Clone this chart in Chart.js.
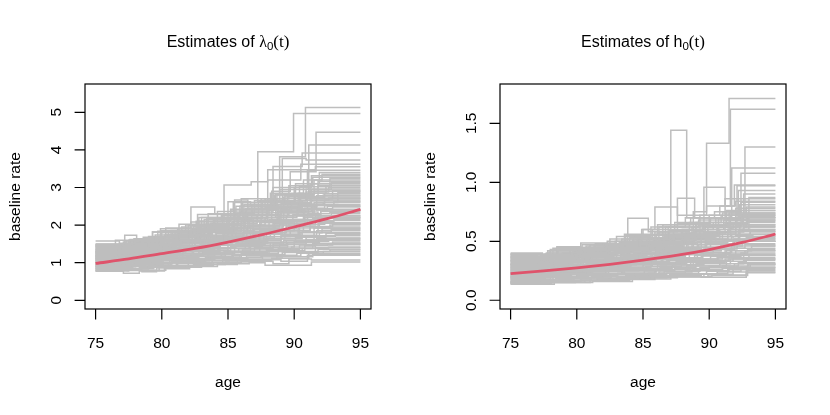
<!DOCTYPE html>
<html>
<head>
<meta charset="utf-8">
<script src="https://cdn.jsdelivr.net/npm/chart.js@4.4.1/dist/chart.umd.min.js"></script>
<style>
  html, body { margin: 0; padding: 0; background: #fff; }
  #wrap { display: flex; width: 830px; height: 415px; }
  .panel { width: 415px; height: 415px; }
</style>
</head>
<body>
<div id="wrap">
  <div class="panel"><canvas id="lambdaChart" width="415" height="415"></canvas></div>
  <div class="panel"><canvas id="hChart" width="415" height="415"></canvas></div>
</div>
<script>
// ---- data ----
const ageTicks = [75, 80, 85, 90, 95];
const ageEnd = 95;

const lambdaTicks = [0, 1, 2, 3, 4, 5];
const lambdaTickLabels = ['0', '1', '2', '3', '4', '5'];
const hTicks = [0, 0.5, 1, 1.5];
const hTickLabels = ['0.0', '0.5', '1.0', '1.5'];

// fitted (red) curves
const fitAges = [75, 77.5, 80, 82.5, 85, 87.5, 90, 92.5, 95];
const lambdaFit = [0.98, 1.10, 1.24, 1.38, 1.55, 1.74, 1.95, 2.17, 2.42];
const hFit = [0.225, 0.25, 0.275, 0.305, 0.34, 0.38, 0.43, 0.49, 0.56];

// step estimates: [age where the step starts, value]
const lambdaLow = [
  [[75,0.77],[77.1,0.72],[78.3,0.78],[80.2,0.84],[82.1,0.9],[84.2,0.97],[86.6,1.0],[87.8,0.93],[91.3,1.02]],
  [[75,0.79],[76.6,0.8],[78.5,0.76],[79.6,0.86],[81.7,0.92],[83.9,1.0],[86.0,1.04],[88.4,0.97],[89.6,1.1],[91.3,1.07]],
  [[75,0.82],[77.4,0.79],[79.8,0.9],[82.4,0.95],[84.8,1.02],[87.2,1.08],[89.0,1.04],[91.0,1.2]],
  [[75,0.85],[76.8,0.83],[79.0,0.93],[81.2,0.98],[83.3,1.05],[85.6,1.1],[88.7,1.16],[91.4,1.22]],
  [[75,0.88],[77.8,0.9],[80.5,0.99],[82.9,1.05],[85.1,1.14],[87.5,1.2],[90.2,1.25],[92.2,1.3]],
  [[75,0.9],[77.3,0.94],[79.5,1.0],[81.9,1.08],[84.0,1.12],[86.4,1.22],[89.3,1.28],[91.8,1.36]],
  [[75,0.93],[78.0,0.97],[80.8,1.05],[83.6,1.15],[85.9,1.2],[88.1,1.3],[90.6,1.38],[92.6,1.42]],
  [[75,0.95],[76.4,0.99],[79.2,1.06],[81.4,1.12],[84.5,1.22],[86.9,1.3],[89.8,1.42],[91.6,1.5]],
  [[75,0.97],[77.6,1.02],[80.0,1.1],[82.7,1.17],[85.4,1.27],[87.9,1.36],[90.4,1.47],[92.9,1.55]],
  [[75,1.0],[76.9,1.04],[79.9,1.13],[82.2,1.22],[84.7,1.3],[87.0,1.4],[89.5,1.53],[91.9,1.6]],
  [[75,1.02],[78.2,1.08],[80.4,1.18],[83.1,1.27],[85.8,1.37],[88.4,1.5],[90.9,1.62],[93.2,1.66]],
  [[75,1.04],[77.0,1.1],[79.7,1.2],[81.6,1.3],[84.2,1.38],[86.6,1.5],[89.2,1.6],[91.5,1.72]],
  [[75,1.06],[77.7,1.12],[80.3,1.24],[82.8,1.33],[85.2,1.44],[87.6,1.55],[90.1,1.68],[92.4,1.78]],
  [[75,1.08],[76.5,1.14],[79.1,1.26],[81.8,1.35],[84.0,1.47],[86.8,1.6],[89.0,1.73],[91.7,1.85]],
  [[75,1.1],[78.4,1.18],[80.9,1.3],[83.4,1.4],[85.6,1.52],[88.0,1.65],[90.5,1.8],[92.1,1.9]],
  [[75,1.12],[77.2,1.2],[79.4,1.33],[82.0,1.44],[84.4,1.56],[87.3,1.7],[89.7,1.86],[91.2,1.95]],
  [[75,1.14],[77.9,1.22],[80.6,1.36],[83.0,1.48],[85.3,1.6],[87.7,1.76],[90.3,1.92],[92.7,2.0]],
  [[75,1.16],[76.7,1.25],[79.6,1.38],[82.5,1.52],[84.9,1.64],[87.1,1.8],[89.4,1.96],[91.9,2.06]]
];
const lambdaMid = [
  [[75,1.18],[78.1,1.28],[80.7,1.42],[83.2,1.55],[85.7,1.7],[88.2,1.86],[90.7,2.02],[92.3,2.12]],
  [[75,1.2],[77.5,1.3],[80.1,1.45],[82.3,1.58],[84.6,1.74],[86.9,1.9],[89.1,2.08],[91.4,2.18]],
  [[75,1.22],[76.9,1.33],[79.3,1.48],[81.5,1.62],[84.1,1.78],[86.5,1.95],[88.9,2.12],[91.0,2.25]],
  [[75,1.24],[78.3,1.36],[81.0,1.52],[83.7,1.68],[86.2,1.84],[88.6,2.0],[90.8,2.2],[92.8,2.3]],
  [[75,1.26],[77.4,1.38],[79.9,1.55],[82.6,1.72],[85.0,1.9],[87.4,2.06],[89.9,2.28],[92.0,2.36]],
  [[75,1.28],[76.6,1.4],[79.0,1.58],[81.3,1.76],[83.8,1.94],[86.3,2.12],[88.8,2.32],[91.1,2.42]],
  [[75,1.3],[77.8,1.44],[80.2,1.62],[82.9,1.8],[85.5,2.0],[87.8,2.2],[90.2,2.4],[92.5,2.5]],
  [[75,1.32],[77.0,1.46],[79.8,1.66],[82.1,1.85],[84.8,2.05],[87.2,2.26],[89.6,2.45],[91.6,2.55]],
  [[75,1.34],[78.0,1.5],[80.5,1.7],[83.5,1.9],[86.0,2.12],[88.3,2.33],[90.6,2.52],[93.0,2.62]],
  [[75,1.36],[76.8,1.52],[79.5,1.74],[82.4,1.96],[85.1,2.18],[87.6,2.4],[89.8,2.6],[91.3,2.7]],
  [[75,1.38],[77.6,1.55],[80.8,1.8],[83.3,2.02],[85.8,2.26],[88.1,2.5],[90.4,2.7],[92.2,2.8]],
  [[75,1.4],[77.3,1.58],[79.7,1.84],[82.2,2.08],[84.5,2.3],[86.8,2.55],[89.3,2.78],[91.5,2.9]],
  [[75,1.42],[78.2,1.62],[81.2,1.9],[83.9,2.15],[86.4,2.4],[88.7,2.65],[90.9,2.88],[92.6,3.0]],
  [[75,1.44],[76.5,1.6],[79.3,1.82],[81.8,2.0],[84.2,2.36],[85.5,2.67],[86.5,2.45],[88.5,2.8],[91.2,3.1]],
  [[75,1.46],[77.9,1.64],[80.3,1.92],[82.2,2.48],[84.0,2.3],[86.1,2.6],[88.9,2.95],[91.8,3.16]],
  [[75,1.48],[77.1,1.5],[79.3,1.82],[80.5,1.6],[82.8,2.1],[85.2,2.4],[87.5,2.7],[89.6,3.05],[91.4,3.27]],
  [[75,1.49],[77.2,1.73],[78.1,1.55],[80.9,1.75],[83.0,2.2],[85.9,2.5],[88.2,2.85],[90.7,3.2],[92.1,3.35]],
  [[75,1.58],[76.8,1.45],[79.0,1.7],[81.3,2.02],[84.0,2.0],[86.2,2.55],[88.4,3.0],[91.0,3.46]]
];
const lambdaHigh = [
  [[75,1.45],[78.6,1.68],[81.5,1.95],[84.7,3.07],[86.75,3.15],[88.0,3.47],[91.6,3.55]],
  [[75,1.35],[77.5,1.6],[80.0,1.85],[82.8,2.2],[85.4,2.6],[87.25,3.95],[89.95,4.97]],
  [[75,1.3],[78.0,1.5],[81.0,1.8],[83.5,2.3],[86.0,2.7],[88.9,3.82],[90.85,5.13]],
  [[75,1.25],[77.2,1.48],[80.4,1.75],[83.2,2.15],[85.6,2.5],[88.3,2.9],[89.7,3.42],[91.65,4.47]],
  [[75,1.2],[78.4,1.45],[81.0,1.7],[83.7,2.05],[86.3,2.45],[88.7,2.8],[91.1,4.13]],
  [[75,1.15],[77.8,1.4],[80.6,1.68],[83.0,2.0],[85.5,2.35],[88.4,3.56],[90.6,3.92]],
  [[75,1.1],[77.0,1.35],[79.9,1.6],[82.6,1.95],[85.0,2.3],[87.0,2.65],[89.1,3.77],[90.9,3.73]],
  [[75,1.05],[78.0,1.3],[80.9,1.55],[83.5,1.9],[86.5,2.35],[88.0,3.2],[90.5,3.62]],
  [[75,1.0],[77.4,1.25],[80.0,1.5],[82.0,1.82],[84.9,2.2],[87.6,2.6],[90.0,3.0],[91.3,3.31]],
  [[75,0.95],[76.9,1.2],[79.6,1.45],[82.5,1.7],[85.3,2.1],[88.8,2.55],[90.3,2.85],[92.4,3.04]],
  [[75,0.9],[78.1,1.15],[81.1,1.4],[83.8,1.65],[86.7,2.0],[89.0,2.4],[91.0,2.7],[92.9,2.93]],
  [[75,0.85],[77.7,1.05],[80.5,1.3],[84.3,1.6],[87.0,1.9],[89.4,2.25],[91.5,2.6],[93.3,2.86]],
  [[75,0.8],[77.0,0.95],[80.1,1.2],[83.1,1.5],[86.1,1.8],[88.5,2.1],[90.8,2.45],[92.3,2.67]],
  [[75,1.5],[77.6,1.62],[79.9,1.9],[82.7,2.28],[85.0,2.62],[86.7,2.5],[89.2,2.75],[91.9,2.75]],
  [[75,1.12],[78.7,1.3],[81.4,1.55],[84.1,1.85],[86.9,2.2],[89.5,2.55],[91.7,2.4]],
  [[75,1.0],[77.9,1.15],[80.7,1.38],[83.6,1.62],[86.4,1.95],[89.2,2.35],[91.8,2.2]],
  [[75,0.92],[78.8,1.1],[81.6,1.3],[84.4,1.55],[87.4,1.85],[90.0,2.15],[92.5,2.05]],
  [[75,1.18],[77.1,1.35],[80.2,1.58],[82.9,1.88],[85.7,2.2],[88.6,2.5],[91.3,2.95],[92.8,3.14]],
  [[75,1.28],[76.4,1.42],[79.2,1.68],[82.0,1.98],[84.6,2.25],[87.3,2.62],[90.1,3.1],[91.9,3.4]]
];
const lambdaDense = [
  [[75,0.78],[77.5,0.8],[80.3,0.88],[83.0,0.95],[85.7,1.05],[88.3,1.12],[91.1,1.25]],
  [[75,0.81],[76.9,0.84],[79.4,0.92],[82.0,1.0],[84.6,1.08],[87.6,1.18],[90.5,1.3],[92.7,1.34]],
  [[75,0.84],[78.3,0.88],[81.1,0.97],[83.8,1.06],[86.5,1.15],[89.1,1.27],[91.6,1.4]],
  [[75,0.86],[77.1,0.9],[79.9,1.0],[82.6,1.1],[85.3,1.2],[88.0,1.32],[90.8,1.45],[92.5,1.48]],
  [[75,0.89],[78.0,0.94],[80.7,1.04],[83.3,1.14],[86.0,1.25],[88.8,1.38],[91.4,1.52]],
  [[75,0.91],[76.6,0.95],[79.1,1.06],[81.9,1.17],[84.8,1.29],[87.4,1.42],[90.0,1.57],[92.6,1.62]],
  [[75,0.94],[77.9,1.0],[80.6,1.1],[83.5,1.22],[86.1,1.34],[88.9,1.48],[91.7,1.65]],
  [[75,0.96],[77.3,1.01],[80.0,1.13],[82.8,1.25],[85.5,1.39],[88.2,1.54],[90.9,1.7],[93.1,1.75]],
  [[75,0.99],[78.5,1.06],[81.3,1.18],[84.0,1.31],[86.7,1.45],[89.4,1.6],[91.9,1.8]],
  [[75,1.01],[76.8,1.05],[79.6,1.19],[82.3,1.33],[85.0,1.48],[87.8,1.64],[90.6,1.82],[92.8,1.88]],
  [[75,1.03],[78.1,1.1],[80.9,1.23],[83.7,1.38],[86.3,1.53],[89.0,1.7],[91.5,1.92]],
  [[75,1.05],[77.0,1.1],[79.8,1.25],[82.4,1.4],[85.2,1.57],[87.9,1.76],[90.4,1.96],[92.9,2.02]],
  [[75,1.07],[78.4,1.15],[81.2,1.3],[83.9,1.46],[86.6,1.63],[89.3,1.82],[91.8,2.05]],
  [[75,1.09],[77.6,1.16],[80.4,1.31],[83.1,1.48],[85.8,1.66],[88.5,1.86],[91.2,2.1],[93.0,2.14]],
  [[75,1.11],[76.7,1.17],[79.3,1.32],[82.1,1.5],[84.9,1.7],[87.7,1.9],[90.2,2.14],[92.4,2.2]],
  [[75,1.13],[78.2,1.23],[81.0,1.4],[83.6,1.58],[86.4,1.78],[89.1,2.0],[91.6,2.24]],
  [[75,1.15],[77.3,1.23],[80.1,1.4],[82.9,1.6],[85.6,1.82],[88.4,2.05],[91.0,2.3],[92.7,2.34]],
  [[75,1.17],[78.6,1.28],[81.4,1.46],[84.2,1.66],[86.9,1.88],[89.6,2.12],[92.0,2.4]],
  [[75,1.19],[77.0,1.27],[79.7,1.45],[82.5,1.66],[85.3,1.9],[88.1,2.15],[90.7,2.44],[92.9,2.48]],
  [[75,1.21],[78.0,1.32],[80.8,1.52],[83.4,1.74],[86.2,1.98],[88.9,2.24],[91.4,2.52]],
  [[75,1.23],[76.5,1.3],[79.2,1.5],[82.0,1.72],[84.7,1.98],[87.5,2.26],[90.3,2.56],[92.2,2.6]],
  [[75,1.25],[77.8,1.37],[80.5,1.58],[83.2,1.82],[86.0,2.08],[88.7,2.36],[91.3,2.64]],
  [[75,1.27],[77.2,1.37],[80.0,1.58],[82.7,1.84],[85.4,2.1],[88.0,2.4],[90.6,2.66],[92.6,2.72]],
  [[75,1.29],[78.3,1.43],[81.1,1.66],[83.8,1.92],[86.6,2.2],[89.2,2.5],[91.7,2.78]],
  [[75,1.31],[76.9,1.4],[79.6,1.62],[82.3,1.88],[85.1,2.16],[87.9,2.46],[90.5,2.74],[92.3,2.84]],
  [[75,1.33],[78.1,1.47],[80.9,1.72],[83.6,1.98],[86.3,2.28],[89.0,2.58],[91.2,2.9]],
  [[75,1.37],[77.5,1.5],[80.2,1.74],[82.9,2.02],[85.7,2.32],[88.3,2.64],[90.9,2.96]],
  [[75,1.41],[78.5,1.58],[81.3,1.84],[84.0,2.14],[86.8,2.44],[89.5,2.76],[91.8,3.06]],
  [[75,1.43],[77.1,1.55],[79.9,1.8],[82.6,2.1],[85.2,2.42],[87.8,2.7],[90.4,3.02],[92.7,3.24]],
  [[75,1.47],[78.0,1.6],[80.7,1.86],[83.4,2.18],[86.1,2.5],[88.6,2.82],[91.5,3.2]]
];

const hLow = [
  [[75,0.135],[78.3,0.155],[80.6,0.165],[83.2,0.175],[85.9,0.19],[87.6,0.21],[89.4,0.195],[92.8,0.234]],
  [[75,0.14],[77.6,0.15],[79.9,0.17],[82.4,0.18],[84.8,0.2],[87.0,0.2],[89.9,0.215],[92.8,0.25]],
  [[75,0.15],[78.0,0.16],[80.3,0.18],[83.0,0.19],[85.5,0.21],[88.0,0.22],[90.6,0.24],[92.9,0.27]],
  [[75,0.16],[77.2,0.17],[79.6,0.19],[82.0,0.2],[84.4,0.22],[86.8,0.23],[89.2,0.25],[91.5,0.28]],
  [[75,0.17],[78.6,0.18],[81.1,0.2],[83.7,0.21],[86.2,0.24],[88.7,0.26],[91.0,0.27],[93.1,0.3]],
  [[75,0.18],[77.5,0.19],[80.0,0.21],[82.6,0.22],[85.1,0.25],[87.4,0.27],[90.0,0.29],[92.2,0.32]],
  [[75,0.19],[78.2,0.2],[80.8,0.22],[83.4,0.24],[86.0,0.26],[88.3,0.29],[90.8,0.31],[92.6,0.34]],
  [[75,0.2],[76.9,0.21],[79.5,0.23],[82.2,0.25],[84.7,0.27],[87.2,0.3],[89.6,0.33],[91.8,0.36]],
  [[75,0.21],[78.4,0.22],[81.0,0.24],[83.6,0.26],[86.3,0.29],[88.6,0.32],[91.2,0.35],[93.0,0.38]],
  [[75,0.22],[77.3,0.23],[79.8,0.25],[82.5,0.27],[85.0,0.3],[87.5,0.33],[90.1,0.37],[92.4,0.4]],
  [[75,0.23],[78.1,0.24],[80.5,0.26],[83.1,0.29],[85.7,0.32],[88.1,0.35],[90.7,0.39],[92.7,0.42]],
  [[75,0.24],[77.0,0.25],[79.4,0.27],[81.9,0.3],[84.5,0.33],[87.0,0.36],[89.5,0.4],[91.6,0.44]],
  [[75,0.25],[78.5,0.26],[81.2,0.29],[83.8,0.31],[86.4,0.35],[88.9,0.38],[91.3,0.42],[93.2,0.46]],
  [[75,0.26],[77.4,0.27],[80.1,0.3],[82.7,0.33],[85.2,0.36],[87.8,0.4],[90.3,0.44],[92.1,0.48]],
  [[75,0.27],[78.0,0.28],[80.7,0.31],[83.3,0.34],[85.9,0.38],[88.2,0.42],[90.9,0.46],[92.5,0.5]],
  [[75,0.28],[76.8,0.29],[79.3,0.32],[82.1,0.35],[84.6,0.39],[87.1,0.43],[89.7,0.48],[91.9,0.52]],
  [[75,0.29],[78.3,0.3],[81.0,0.33],[83.5,0.37],[86.1,0.41],[88.5,0.45],[91.1,0.5],[92.9,0.54]]
];
const hMid = [
  [[75,0.3],[77.1,0.31],[79.7,0.34],[82.3,0.38],[84.9,0.42],[87.3,0.47],[89.8,0.52],[91.7,0.56]],
  [[75,0.31],[78.4,0.32],[80.9,0.35],[83.5,0.39],[86.0,0.44],[88.4,0.49],[90.5,0.54],[92.3,0.58]],
  [[75,0.32],[77.6,0.33],[80.2,0.37],[82.8,0.41],[85.4,0.46],[87.9,0.51],[90.2,0.56],[91.4,0.6]],
  [[75,0.33],[77.9,0.34],[80.4,0.38],[83.0,0.42],[85.6,0.47],[88.0,0.53],[90.4,0.58],[92.6,0.62]],
  [[75,0.34],[77.2,0.35],[79.9,0.39],[82.4,0.43],[84.8,0.49],[87.4,0.55],[89.9,0.6],[91.8,0.64]],
  [[75,0.35],[78.1,0.36],[80.8,0.4],[83.3,0.45],[85.8,0.5],[88.2,0.57],[90.6,0.62],[92.2,0.66]],
  [[75,0.36],[77.4,0.37],[79.8,0.41],[82.2,0.46],[84.6,0.52],[87.0,0.59],[89.5,0.64],[91.3,0.68]],
  [[75,0.37],[78.3,0.38],[80.6,0.42],[83.2,0.47],[85.5,0.53],[87.9,0.6],[90.3,0.66],[92.5,0.7]],
  [[75,0.38],[77.0,0.39],[79.5,0.43],[82.0,0.48],[84.3,0.55],[86.7,0.62],[89.2,0.68],[91.6,0.72]],
  [[75,0.39],[77.3,0.38],[78.5,0.45],[81.0,0.47],[83.7,0.55],[86.1,0.64],[88.6,0.7],[91.0,0.74]],
  [[75,0.4],[77.4,0.384],[78.5,0.454],[80.3,0.485],[82.9,0.5],[84.9,0.6],[87.4,0.66],[90.0,0.72],[92.0,0.78]],
  [[75,0.36],[77.7,0.4],[80.0,0.44],[82.3,0.5],[83.85,0.695],[85.4,0.58],[87.6,0.65],[90.1,0.7],[92.3,0.81]],
  [[75,0.33],[77.8,0.42],[80.4,0.47],[82.5,0.52],[85.0,0.6],[85.9,0.79],[87.6,0.72],[89.8,0.8],[92.0,0.84]],
  [[75,0.3],[78.0,0.43],[80.7,0.46],[83.0,0.54],[85.6,0.62],[87.6,0.864],[88.9,0.7],[91.2,0.86]],
  [[75,0.28],[78.2,0.44],[81.4,0.48],[83.6,0.56],[86.2,0.62],[88.2,0.7],[89.6,0.957],[91.2,0.8],[91.9,0.977]],
  [[75,0.26],[77.9,0.41],[80.9,0.45],[83.4,0.52],[85.7,0.6],[87.1,1.44],[88.3,0.7],[90.4,0.75],[92.4,1.076]],
  [[75,0.24],[78.6,0.42],[81.3,0.46],[84.0,0.53],[86.5,0.64],[88.8,0.75],[89.8,1.33],[91.5,1.71]]
];
const hHigh = [
  [[75,0.22],[78.9,0.4],[81.6,0.44],[84.2,0.51],[86.9,0.62],[89.3,0.72],[90.8,0.8],[91.6,1.62]],
  [[75,0.2],[78.7,0.39],[81.8,0.43],[84.5,0.5],[87.3,0.6],[89.6,0.7],[91.7,1.12]],
  [[75,0.18],[77.5,0.36],[80.2,0.42],[83.3,0.48],[85.9,0.58],[88.5,0.66],[90.9,0.72],[92.7,1.3]],
  [[75,0.16],[78.0,0.33],[81.0,0.4],[83.9,0.46],[86.6,0.55],[89.0,0.64],[91.3,0.72],[92.1,0.97]],
  [[75,0.15],[77.6,0.3],[80.5,0.38],[83.1,0.44],[85.8,0.52],[88.7,0.62],[90.5,0.7],[92.2,0.93]],
  [[75,0.16],[78.2,0.2],[80.9,0.26],[83.8,0.32],[86.4,0.4],[89.1,0.5],[91.0,0.58],[92.6,0.9]],
  [[75,0.19],[77.9,0.22],[80.6,0.27],[83.5,0.34],[86.0,0.42],[88.8,0.52],[91.4,0.6],[93.0,0.87]],
  [[75,0.21],[78.5,0.24],[81.2,0.29],[84.1,0.35],[86.7,0.44],[89.4,0.54],[91.6,0.62],[92.4,0.83]],
  [[75,0.23],[77.1,0.25],[80.0,0.3],[82.9,0.36],[85.6,0.45],[88.3,0.55],[90.7,0.62],[92.8,0.79]],
  [[75,0.27],[77.7,0.28],[80.3,0.33],[83.0,0.38],[85.3,0.46],[88.0,0.56],[90.6,0.64],[92.0,0.76]],
  [[75,0.29],[78.3,0.3],[81.1,0.34],[83.9,0.4],[86.5,0.48],[89.0,0.58],[91.5,0.66],[92.5,0.73]],
  [[75,0.31],[77.2,0.32],[80.4,0.36],[83.4,0.42],[86.3,0.5],[88.9,0.6],[91.1,0.68],[92.9,0.7]],
  [[75,0.34],[78.8,0.35],[81.5,0.38],[84.3,0.44],[87.0,0.52],[89.7,0.62],[91.4,0.66],[92.3,0.6]],
  [[75,0.37],[77.8,0.36],[80.8,0.4],[83.8,0.46],[86.6,0.54],[89.3,0.63],[91.7,0.6],[93.1,0.56]],
  [[75,0.39],[78.4,0.37],[81.3,0.41],[84.2,0.48],[87.2,0.56],[89.9,0.64],[92.0,0.55],[93.3,0.5]],
  [[75,0.145],[77.9,0.15],[81.0,0.17],[84.0,0.19],[86.8,0.2],[89.6,0.22],[91.8,0.26],[92.9,0.3]]
];
const hDense = [
  [[75,0.142],[78.1,0.15],[81.2,0.16],[84.2,0.18],[87.1,0.2],[90.2,0.21],[92.9,0.24]],
  [[75,0.148],[77.4,0.155],[80.2,0.168],[83.0,0.185],[85.8,0.205],[88.6,0.225],[91.4,0.26]],
  [[75,0.155],[78.7,0.165],[81.5,0.18],[84.3,0.2],[87.0,0.22],[89.8,0.245],[92.4,0.28]],
  [[75,0.165],[77.0,0.172],[79.8,0.188],[82.6,0.205],[85.4,0.23],[88.2,0.255],[91.0,0.29],[93.0,0.31]],
  [[75,0.175],[78.4,0.185],[81.1,0.2],[83.9,0.22],[86.6,0.245],[89.3,0.275],[91.9,0.31]],
  [[75,0.185],[77.6,0.195],[80.4,0.21],[83.1,0.23],[85.9,0.26],[88.6,0.29],[91.3,0.33],[92.8,0.35]],
  [[75,0.195],[78.2,0.205],[80.9,0.225],[83.6,0.25],[86.3,0.28],[89.0,0.31],[91.6,0.35]],
  [[75,0.205],[76.8,0.212],[79.6,0.23],[82.4,0.255],[85.2,0.285],[87.9,0.32],[90.6,0.36],[92.6,0.39]],
  [[75,0.215],[78.0,0.225],[80.8,0.245],[83.4,0.27],[86.1,0.3],[88.8,0.34],[91.5,0.38]],
  [[75,0.225],[77.2,0.232],[80.0,0.252],[82.8,0.28],[85.6,0.31],[88.3,0.35],[91.0,0.4],[92.9,0.43]],
  [[75,0.235],[78.5,0.245],[81.3,0.27],[84.0,0.3],[86.8,0.335],[89.5,0.375],[92.0,0.42]],
  [[75,0.245],[77.5,0.255],[80.3,0.278],[83.0,0.31],[85.8,0.345],[88.5,0.39],[91.2,0.44],[92.7,0.47]],
  [[75,0.255],[78.3,0.265],[81.0,0.29],[83.7,0.32],[86.4,0.36],[89.1,0.405],[91.7,0.46]],
  [[75,0.265],[77.0,0.272],[79.9,0.298],[82.7,0.33],[85.5,0.37],[88.2,0.42],[90.9,0.48],[92.5,0.5]],
  [[75,0.275],[78.6,0.285],[81.4,0.312],[84.1,0.345],[86.9,0.385],[89.6,0.435],[92.1,0.5]],
  [[75,0.285],[77.3,0.292],[80.1,0.32],[82.9,0.355],[85.7,0.4],[88.4,0.45],[91.1,0.51],[92.8,0.53]],
  [[75,0.295],[78.2,0.305],[81.0,0.335],[83.8,0.37],[86.5,0.415],[89.2,0.47],[91.8,0.54]],
  [[75,0.305],[77.7,0.315],[80.5,0.345],[83.3,0.385],[86.0,0.43],[88.7,0.49],[91.4,0.56],[93.1,0.58]],
  [[75,0.315],[78.8,0.325],[81.6,0.36],[84.4,0.4],[87.1,0.45],[89.8,0.51],[92.2,0.59]],
  [[75,0.325],[77.1,0.332],[79.9,0.365],[82.7,0.405],[85.5,0.455],[88.1,0.52],[90.8,0.6],[92.6,0.62]],
  [[75,0.335],[78.4,0.345],[81.2,0.38],[84.0,0.42],[86.7,0.475],[89.4,0.54],[92.0,0.63]],
  [[75,0.345],[77.4,0.352],[80.2,0.39],[83.0,0.435],[85.8,0.49],[88.5,0.56],[91.2,0.65],[92.9,0.67]],
  [[75,0.355],[78.1,0.365],[80.9,0.4],[83.6,0.45],[86.3,0.51],[89.0,0.58],[91.6,0.68]],
  [[75,0.365],[76.9,0.37],[79.7,0.41],[82.5,0.46],[85.3,0.52],[88.0,0.6],[90.7,0.69],[92.4,0.71]],
  [[75,0.375],[78.5,0.385],[81.3,0.425],[84.1,0.475],[86.9,0.54],[89.6,0.62],[92.1,0.72]],
  [[75,0.385],[77.6,0.39],[80.4,0.435],[83.2,0.49],[86.0,0.56],[88.8,0.64],[91.5,0.74]],
  [[75,0.395],[77.3,0.375],[80.6,0.44],[83.5,0.5],[86.2,0.57],[89.0,0.66],[91.3,0.76]],
  [[75,0.25],[78.9,0.28],[81.7,0.32],[84.6,0.37],[87.4,0.43],[90.1,0.5],[92.3,0.64]],
  [[75,0.2],[77.8,0.23],[80.7,0.27],[83.5,0.31],[86.5,0.36],[89.4,0.43],[91.9,0.52]],
  [[75,0.3],[78.0,0.33],[80.9,0.38],[83.8,0.43],[86.8,0.49],[89.7,0.57],[92.0,0.7]]
];

// ---- drawing ----
const GRAY = '#BEBEBE';
const RED = '#DF536B';
const SANS = '"Liberation Sans", Arial, sans-serif';
const SERIF = '"Liberation Serif", "Times New Roman", serif';

// turn [age, value] pairs into a step path that runs to the last age
function stepPoints(pairs) {
  const pts = pairs.map(p => ({ x: p[0], y: p[1] }));
  pts.push({ x: ageEnd, y: pairs[pairs.length - 1][1] });
  return pts;
}

function drawTitle(ctx, cx, base, parts) {
  let total = 0;
  parts.forEach(p => { ctx.font = p.font; p.w = ctx.measureText(p.text).width; total += p.w; });
  let xx = cx - total / 2;
  ctx.textAlign = 'left';
  parts.forEach(p => {
    ctx.font = p.font;
    ctx.fillText(p.text, xx, base + (p.dy || 0));
    xx += p.w;
  });
}

// R-style box, ticks and labels, placed with the chart's own scales
const rAxes = {
  id: 'rAxes',
  afterDraw(chart, args, opts) {
    const { ctx, chartArea: a } = chart;
    const x = chart.scales.x, y = chart.scales.y;
    ctx.save();
    ctx.strokeStyle = '#000';
    ctx.lineWidth = 1.2;
    ctx.strokeRect(a.left, a.top, a.right - a.left, a.bottom - a.top);

    ctx.beginPath();
    opts.xTicks.forEach(v => {
      const px = x.getPixelForValue(v);
      ctx.moveTo(px, a.bottom);
      ctx.lineTo(px, a.bottom + 10.4);
    });
    opts.yTicks.forEach(v => {
      const py = y.getPixelForValue(v);
      ctx.moveTo(a.left, py);
      ctx.lineTo(a.left - 10.4, py);
    });
    ctx.stroke();

    ctx.fillStyle = '#000';
    ctx.font = '15.5px ' + SANS;
    ctx.textAlign = 'center';
    ctx.textBaseline = 'alphabetic';
    opts.xTicks.forEach(v => ctx.fillText(String(v), x.getPixelForValue(v), a.bottom + 38.5));
    opts.yTicks.forEach((v, i) => {
      ctx.save();
      ctx.translate(a.left - 24, y.getPixelForValue(v));
      ctx.rotate(-Math.PI / 2);
      ctx.fillText(opts.yLabels[i], 0, 0);
      ctx.restore();
    });

    ctx.fillText('age', (a.left + a.right) / 2, a.bottom + 78);
    ctx.save();
    ctx.translate(20, (a.top + a.bottom) / 2);
    ctx.rotate(-Math.PI / 2);
    ctx.fillText('baseline rate', 0, 0);
    ctx.restore();

    drawTitle(ctx, (a.left + a.right) / 2, 46.8, opts.title);
    ctx.restore();
  }
};

function buildChart(id, groups, fit, yMin, yMax, yTicks, yLabels, title) {
  const datasets = [{
    data: fitAges.map((a, i) => ({ x: a, y: fit[i] })),
    borderColor: RED,
    borderWidth: 2.8,
    pointRadius: 0,
    tension: 0.4,
    cubicInterpolationMode: 'monotone'
  }];
  groups.forEach(g => g.forEach(pairs => {
    datasets.push({
      data: stepPoints(pairs),
      borderColor: GRAY,
      borderWidth: 1.5,
      pointRadius: 0,
      stepped: true
    });
  }));

  return new Chart(document.getElementById(id), {
    type: 'line',
    data: { datasets },
    options: {
      responsive: false,
      animation: false,
      events: [],
      layout: { padding: { left: 85, right: 44, top: 84, bottom: 106 } },
      scales: {
        x: { type: 'linear', min: 74.2, max: 95.8, display: false },
        y: { type: 'linear', min: yMin, max: yMax, display: false }
      },
      plugins: {
        legend: { display: false },
        tooltip: { enabled: false },
        rAxes: { xTicks: ageTicks, yTicks, yLabels, title }
      }
    },
    plugins: [rAxes]
  });
}

buildChart('lambdaChart', [lambdaLow, lambdaMid, lambdaHigh, lambdaDense], lambdaFit,
  -0.231, 5.753, lambdaTicks, lambdaTickLabels, [
    { text: 'Estimates of ', font: '16px ' + SANS },
    { text: 'λ', font: '16px ' + SERIF },
    { text: '0', font: '11.5px ' + SANS, dy: 3.5 },
    { text: '(t)', font: '17px ' + SERIF }
  ]);

buildChart('hChart', [hLow, hMid, hHigh, hDense], hFit,
  -0.074, 1.833, hTicks, hTickLabels, [
    { text: 'Estimates of ', font: '16px ' + SANS },
    { text: 'h', font: '16px ' + SANS },
    { text: '0', font: '11.5px ' + SANS, dy: 3.5 },
    { text: '(t)', font: '17px ' + SERIF }
  ]);
</script>
</body>
</html>
